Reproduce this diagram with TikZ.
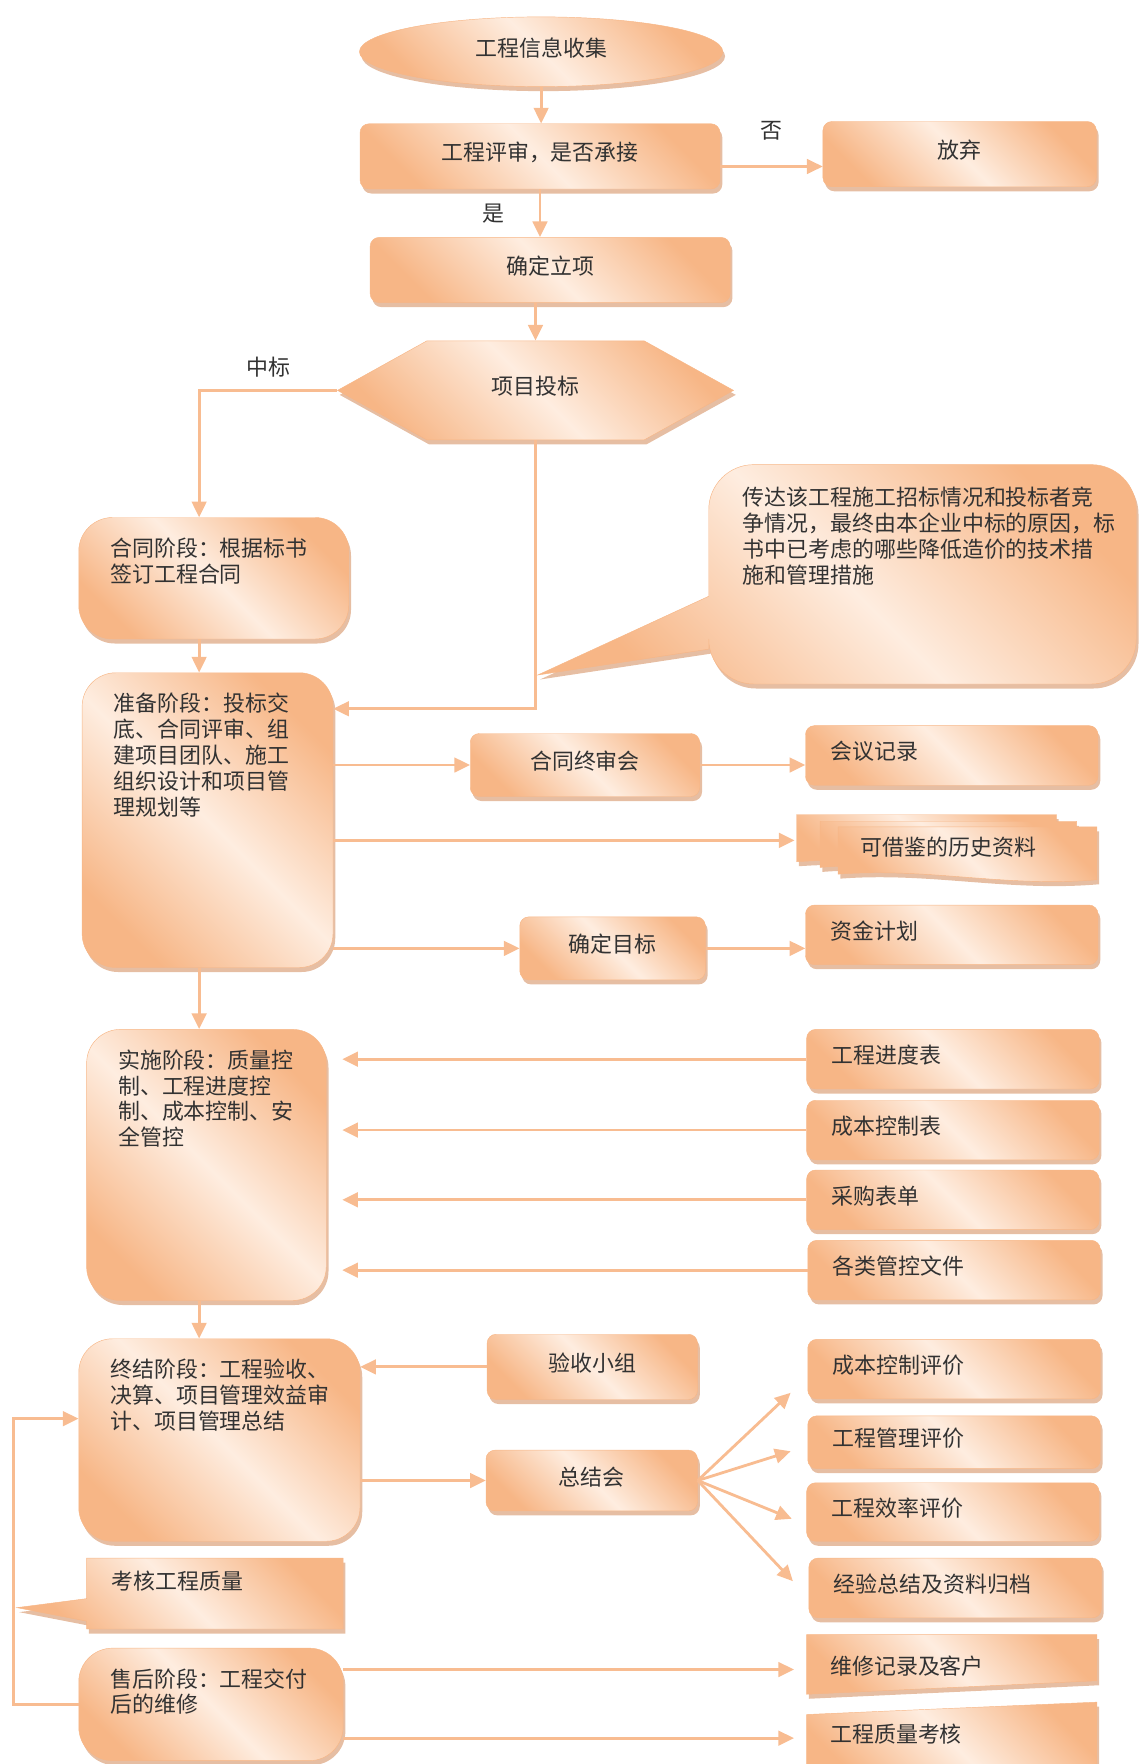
\documentclass[tikz,border=0pt]{standalone}
\usepackage{fontspec}
\newfontfamily\cjk{Noto Sans CJK SC}
\usetikzlibrary{shapes.geometric,shapes.symbols,shadows,arrows.meta}
\definecolor{ora}{RGB}{247,182,134}
\definecolor{peach}{RGB}{254,237,224}
\definecolor{shade}{RGB}{222,168,132}
\definecolor{lineora}{RGB}{248,188,145}
\definecolor{txt}{RGB}{50,50,50}
\newcommand{\topbox}[3]{\parbox[t][#2][t]{#1}{#3}}

\begin{document}
\begin{tikzpicture}[x=1pt,y=-1pt]
          \tikzstyle{base}=[draw=ora,thin,top color=ora,bottom color=ora,middle color=peach,shading angle=-45,
            drop shadow={shadow xshift=2pt,shadow yshift=-4pt,fill=shade,opacity=.75},
            font=\cjk\fontsize{19.5}{23}\selectfont,text=txt]
          \tikzstyle{box}=[base,rectangle,rounded corners=8pt,inner sep=0pt,text height=18pt,text depth=10pt]
          \tikzstyle{doc}=[box,text width=216pt,align=left,inner xsep=22pt,minimum height=53pt]
          \tikzstyle{phase}=[base,rectangle,rounded corners=30pt,inner xsep=28pt,inner ysep=18pt]
          \tikzstyle{hexa}=[base,signal,signal to=west and east,signal pointer angle=58,
            minimum width=352pt,minimum height=88pt,text height=18pt,text depth=10pt]
          \tikzstyle{plain}=[font=\cjk\fontsize{19.5}{23}\selectfont,text=txt,inner sep=0pt]
          \tikzstyle{sheet}=[plain,text width=216pt,align=left,inner xsep=22pt,minimum height=50pt,text height=18pt,text depth=10pt]
          \tikzstyle{edge}=[draw=lineora,line width=2.5pt,-{Triangle[length=14pt,width=13pt]}]
          \useasboundingbox (0,0) rectangle (1012,1568);
          \coordinate (spine) at (177,0);

          \path[base] (820,413) [rounded corners=40pt] -- (630,413) [sharp corners] -- (630,530) -- (478,600)
            -- (630,577) [rounded corners=40pt] -- (630,608) -- (1010,608) -- (1010,413) -- cycle;
          \path[base] (77,1385) -- (305,1385) -- (305,1448) -- (77,1448) -- (77,1441) -- (15,1429) -- (77,1421) -- cycle;
          \foreach \l/\t/\r/\b in {708/724/939/766, 729/730/957/771, 745/735/975/777}
              \path[base] (\l,\b) -- (\l,\t) -- (\r,\t) -- ({\r},{\b+5})
                .. controls ({\r-0.35*(\r-\l)},{\b+12}) and ({\l+0.35*(\r-\l)},{\b-6}) .. (\l,\b) -- cycle;
          \path[base] (717,1453) -- (975,1453) -- (975,1494) -- (717,1506) -- cycle;
          \path[base] (717,1524) -- (975,1513) -- (975,1585) -- (717,1585) -- cycle;

          \node [base,ellipse,minimum width=323pt,minimum height=62pt,text height=18pt,text depth=10pt,inner sep=0pt] (info) at (481,46) {工程信息收集};
          \node [box,minimum width=320pt,minimum height=58pt] (review) at (480,139) {工程评审，是否承接};
          \node [box,minimum width=243pt,minimum height=58pt] (giveup) at (853,137) {放弃};
          \node [box,minimum width=320pt,minimum height=58pt] (project) at (489,240) {确定立项};
          \node [hexa] (bid) at (476,347) {项目投标};
          \node [plain,anchor=north west,align=left] (note) at (660,433) {传达该工程施工招标情况和投标者竞\\争情况，最终由本企业中标的原因，标\\书中已考虑的哪些降低造价的技术措\\施和管理措施};

          \node [phase] (contract) at (190,514) {\topbox{184pt}{72pt}{合同阶段：根据标书\\签订工程合同}};
          \node [phase] (prep) at (184.5,729) {\topbox{167pt}{226pt}{准备阶段：投标交\\底、合同评审、组\\建项目团队、施工\\组织设计和项目管\\理规划等}};
          \node [box,minimum width=204pt,minimum height=56pt] (meeting) at (520,680) {合同终审会};
          \node [doc] (minutes) at (846,671.5) {会议记录};
          \node [plain,minimum width=267pt,minimum height=56pt] (history) at (843,753) {可借鉴的历史资料};
          \node [box,minimum width=165pt,minimum height=56pt] (goal) at (544.5,843) {确定目标};
          \node [doc] (funds) at (846,831) {资金计划};

          \node [phase] (impl) at (183.5,1035.5) {\topbox{157pt}{205pt}{实施阶段：质量控\\制、工程进度控\\制、成本控制、安\\全管控}};
          \node [doc] (sched) at (847,941.5) {工程进度表};
          \node [doc] (costtab) at (847,1004.5) {成本控制表};
          \node [doc] (purchase) at (847,1066.5) {采购表单};
          \node [doc] (ctrldocs) at (848,1129) {各类管控文件};

          \node [phase] (final) at (195,1280) {\topbox{194pt}{144pt}{终结阶段：工程验收、\\决算、项目管理效益审\\计、项目管理总结}};
          \node [box,minimum width=187pt,minimum height=58pt] (accept) at (526.5,1215) {验收小组};
          \node [box,minimum width=188pt,minimum height=54pt] (summary) at (526,1316) {总结会};
          \node [doc] (eval1) at (848,1217) {成本控制评价};
          \node [doc,minimum height=47pt] (eval2) at (848,1282) {工程管理评价};
          \node [doc,minimum height=52pt] (eval3) at (847,1344) {工程效率评价};
          \node [doc] (archive) at (849,1411.5) {经验总结及资料归档};
          \node [plain,anchor=west] (check) at (99,1405) {考核工程质量};
          \node [phase] (aftersale) at (187.5,1515) {\topbox{179pt}{64pt}{售后阶段：工程交付\\后的维修}};
          \node [sheet] (repair) at (846,1484) {维修记录及客户};
          \node [sheet] (quality) at (846,1545) {工程质量考核};

          \path[edge] (info.south) -- (info.south |- review.north);
          \path[edge] ([yshift=-9pt]review.east) -- ([yshift=-9pt]review.east -| giveup.west) node[plain,midway,above=22pt] {否};
          \path[edge] (review.south) -- (review.south |- project.north) node[plain,midway,left=30pt] {是};
          \path[edge] (bid.north |- project.south) -- (bid.north);
          \path[edge] (bid.west) -| (contract.north -| spine) node[plain,pos=0.25,above=10pt] {中标};
          \path[edge] (bid.south) |- ([yshift=99pt]prep.east);
          \path[edge] (contract.south -| spine) -- (prep.north -| spine);
          \path[edge] (meeting.west -| prep.east) -- (meeting.west);
          \path[edge] (meeting.east) -- (meeting.east -| minutes.west);
          \path[edge] ([yshift=6pt]history.west -| prep.east) -- ([yshift=6pt,xshift=-3pt]history.west);
          \path[edge] (goal.west -| prep.east) -- (goal.west);
          \path[edge] (goal.east) -- (goal.east -| funds.west);
          \path[edge] (prep.south -| spine) -- (impl.north -| spine);
          \foreach \n in {sched,costtab,purchase,ctrldocs}
              \path[edge,shorten >=14pt] (\n.west) -- (\n.west -| impl.east);
          \path[edge] (impl.south -| spine) -- (final.north -| spine);
          \path[edge] (accept.west) -- (accept.west -| final.east);
          \path[edge] (summary.west -| final.east) -- (summary.west);
          \foreach \n/\dx/\dy in {eval1/-15/-21, eval2/-15/-8, eval3/-13/-6, archive/-14/6}
              \path[edge] (summary.east) -- ([xshift=\dx pt,yshift=\dy pt]\n.west);
          \path[edge] (aftersale.west) -- ++(-58pt,0) |- ([yshift=19pt]final.west);
          \path[edge,shorten >=10pt] (repair.west -| aftersale.east) -- (repair.west);
          \path[edge,shorten >=10pt] (quality.west -| aftersale.east) -- (quality.west);
        \end{tikzpicture}
\end{document}
